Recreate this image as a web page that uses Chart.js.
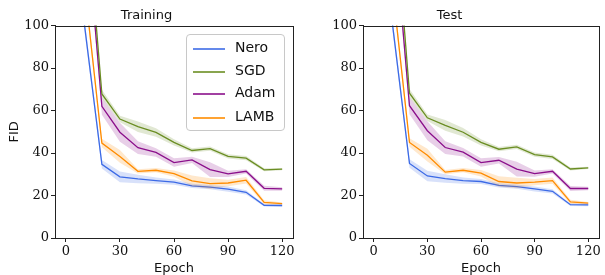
<!DOCTYPE html>
<html>
<head>
<meta charset="utf-8">
<script src="https://cdn.jsdelivr.net/npm/chart.js@4.4.0/dist/chart.umd.min.js"></script>
<style>
  html, body { margin: 0; padding: 0; background: #fff; }
  #wrap { position: relative; width: 605px; height: 275px; overflow: hidden; }
  .panel { position: absolute; top: 0; height: 275px; }
  .legend {
    position: absolute; left: 186px; top: 34px; width: 97px; height: 95px;
    border: 1px solid #c8c8c8; border-radius: 4px; background: rgba(255,255,255,0.85);
    font-family: "DejaVu Sans", sans-serif; font-size: 14px; color: #111;
  }
  .legend .row { position: absolute; left: 0; height: 20px; }
  .legend .swatch { position: absolute; left: 6px; width: 32px; height: 1.5px; top: 10px; opacity: 0.8; }
  .legend .label { position: absolute; left: 48px; top: 1px; white-space: nowrap; }
</style>
</head>
<body>
<div id="wrap">
  <div class="panel" style="left:0;width:300px;"><canvas id="trainChart"></canvas></div>
  <div class="panel" style="left:300px;width:305px;"><canvas id="testChart"></canvas></div>
  <div class="legend" id="legend"></div>
</div>
<script>
// epochs and tick values
const epochs = [10, 20, 30, 40, 50, 60, 70, 80, 90, 100, 110, 120];
const xTicks = [0, 30, 60, 90, 120];
const yTicks = [0, 20, 40, 60, 80, 100];

const names = ['Nero', 'SGD', 'Adam', 'LAMB'];
const colors = ['#3d6be6', '#6b8e23', '#8b108b', '#ff8c00'];

// Training FID (means)
const neroTrain = [102.7, 34.7, 28.8, 27.8, 27.0, 26.3, 24.5, 24.0, 23.0, 21.5, 15.4, 15.3];
const sgdTrain  = [171, 67.8, 56.0, 52.4, 49.7, 45.0, 41.2, 42.1, 38.4, 37.6, 32.1, 32.4];
const adamTrain = [162, 62.0, 49.8, 42.5, 40.3, 35.5, 36.8, 32.2, 30.2, 31.4, 23.4, 23.1];
const lambTrain = [122, 44.7, 38.4, 31.4, 31.9, 30.3, 26.9, 25.6, 25.9, 27.2, 16.8, 16.2];

// Test FID (means)
const neroTest = [104, 35.1, 29.2, 28.0, 27.0, 26.6, 24.8, 24.2, 23.1, 22.0, 15.7, 15.6];
const sgdTest  = [174, 68.2, 56.6, 53.0, 49.8, 45.0, 41.8, 42.9, 39.3, 38.2, 32.5, 33.0];
const adamTest = [160, 62.3, 50.5, 42.6, 40.4, 35.5, 36.6, 32.4, 30.3, 31.4, 23.3, 23.3];
const lambTest = [122, 45.0, 39.0, 31.0, 31.9, 30.5, 26.6, 25.9, 26.3, 27.0, 17.0, 16.4];

// half-width of the shaded band, per optimizer
const neroSpread = [3, 2.0, 2.5, 2.0, 1.5, 1.2, 1.0, 1.0, 1.2, 1.0, 0.6, 0.6];
const sgdSpread  = [3, 2.0, 1.5, 2.5, 2.0, 1.5, 1.0, 1.0, 1.0, 1.0, 0.7, 0.5];
const adamSpread = [3, 4.0, 4.5, 3.0, 2.0, 2.0, 1.5, 3.5, 1.5, 1.0, 1.2, 0.8];
const lambSpread = [3, 2.0, 3.0, 1.0, 1.0, 1.5, 2.5, 2.5, 1.5, 1.5, 1.0, 0.5];

const spreads = [neroSpread, sgdSpread, adamSpread, lambSpread];

function rgba(hex, a) {
  const n = parseInt(hex.slice(1), 16);
  return `rgba(${(n >> 16) & 255}, ${(n >> 8) & 255}, ${n & 255}, ${a})`;
}

function buildDatasets(means) {
  const sets = [];
  means.forEach((m, i) => {
    const lo = m.map((v, k) => ({x: epochs[k], y: v - spreads[i][k]}));
    const hi = m.map((v, k) => ({x: epochs[k], y: v + spreads[i][k]}));
    sets.push({data: lo, borderWidth: 0, pointRadius: 0, fill: false, label: '_lo'});
    sets.push({data: hi, borderWidth: 0, pointRadius: 0, fill: '-1',
               backgroundColor: rgba(colors[i], 0.2), label: '_hi'});
  });
  means.forEach((m, i) => {
    sets.push({
      label: names[i],
      data: m.map((v, k) => ({x: epochs[k], y: v})),
      borderColor: colors[i],
      borderWidth: 1.3,
      pointRadius: 0,
      fill: false,
      tension: 0
    });
  });
  return sets;
}

// box around the plot area (all four spines)
const frame = {
  id: 'frame',
  afterDraw(chart) {
    const {ctx, chartArea: a} = chart;
    ctx.save();
    ctx.strokeStyle = '#222';
    ctx.lineWidth = 1;
    ctx.strokeRect(Math.round(a.left) + 0.5, Math.round(a.top) + 0.5,
                   Math.round(a.right - a.left), Math.round(a.bottom - a.top));
    ctx.restore();
  }
};

function makeChart(id, title, means, yWidth, padRight, showYTitle) {
  const tickFont = {family: '"DejaVu Serif", serif', size: 13};
  const textFont = {family: '"DejaVu Sans", sans-serif', size: 13};
  return new Chart(document.getElementById(id), {
    type: 'line',
    data: {datasets: buildDatasets(means)},
    plugins: [frame],
    options: {
      responsive: true,
      maintainAspectRatio: false,
      animation: false,
      layout: {padding: {left: 0, right: padRight, top: 0, bottom: 0}},
      plugins: {
        legend: {display: false},
        tooltip: {enabled: false},
        title: {
          display: true,
          text: title,
          color: '#111',
          font: {...textFont, weight: 'normal'},
          padding: {top: 8, bottom: 2}
        }
      },
      scales: {
        x: {
          type: 'linear',
          min: -6,
          max: 126,
          afterBuildTicks: s => { s.ticks = xTicks.map(v => ({value: v})); },
          afterFit: s => { s.height = 37; },
          grid: {drawOnChartArea: false, drawTicks: true, tickLength: 4, color: '#222'},
          border: {color: '#222'},
          ticks: {color: '#111', font: tickFont, padding: 2, maxRotation: 0},
          title: {display: true, text: 'Epoch', color: '#111', font: textFont, padding: {top: 0, bottom: -1}}
        },
        y: {
          min: 0,
          max: 100,
          afterBuildTicks: s => { s.ticks = yTicks.map(v => ({value: v})); },
          afterFit: s => { s.width = yWidth; },
          grid: {drawOnChartArea: false, drawTicks: true, tickLength: 4, color: '#222'},
          border: {color: '#222'},
          ticks: {color: '#111', font: tickFont, padding: 2},
          title: {display: showYTitle, text: 'FID', color: '#111', font: textFont, padding: {top: 7, bottom: 0}}
        }
      }
    }
  });
}

makeChart('trainChart', 'Training', [neroTrain, sgdTrain, adamTrain, lambTrain], 55, 7, true);
makeChart('testChart', 'Test', [neroTest, sgdTest, adamTest, lambTest], 63, 6, false);

// legend box inside the training panel
const legend = document.getElementById('legend');
const rowTops = [3, 26, 48, 72];
names.forEach((n, i) => {
  const row = document.createElement('div');
  row.className = 'row';
  row.style.top = rowTops[i] + 'px';
  row.innerHTML = `<div class="swatch" style="background:${colors[i]}"></div><div class="label">${n}</div>`;
  legend.appendChild(row);
});
</script>
</body>
</html>
